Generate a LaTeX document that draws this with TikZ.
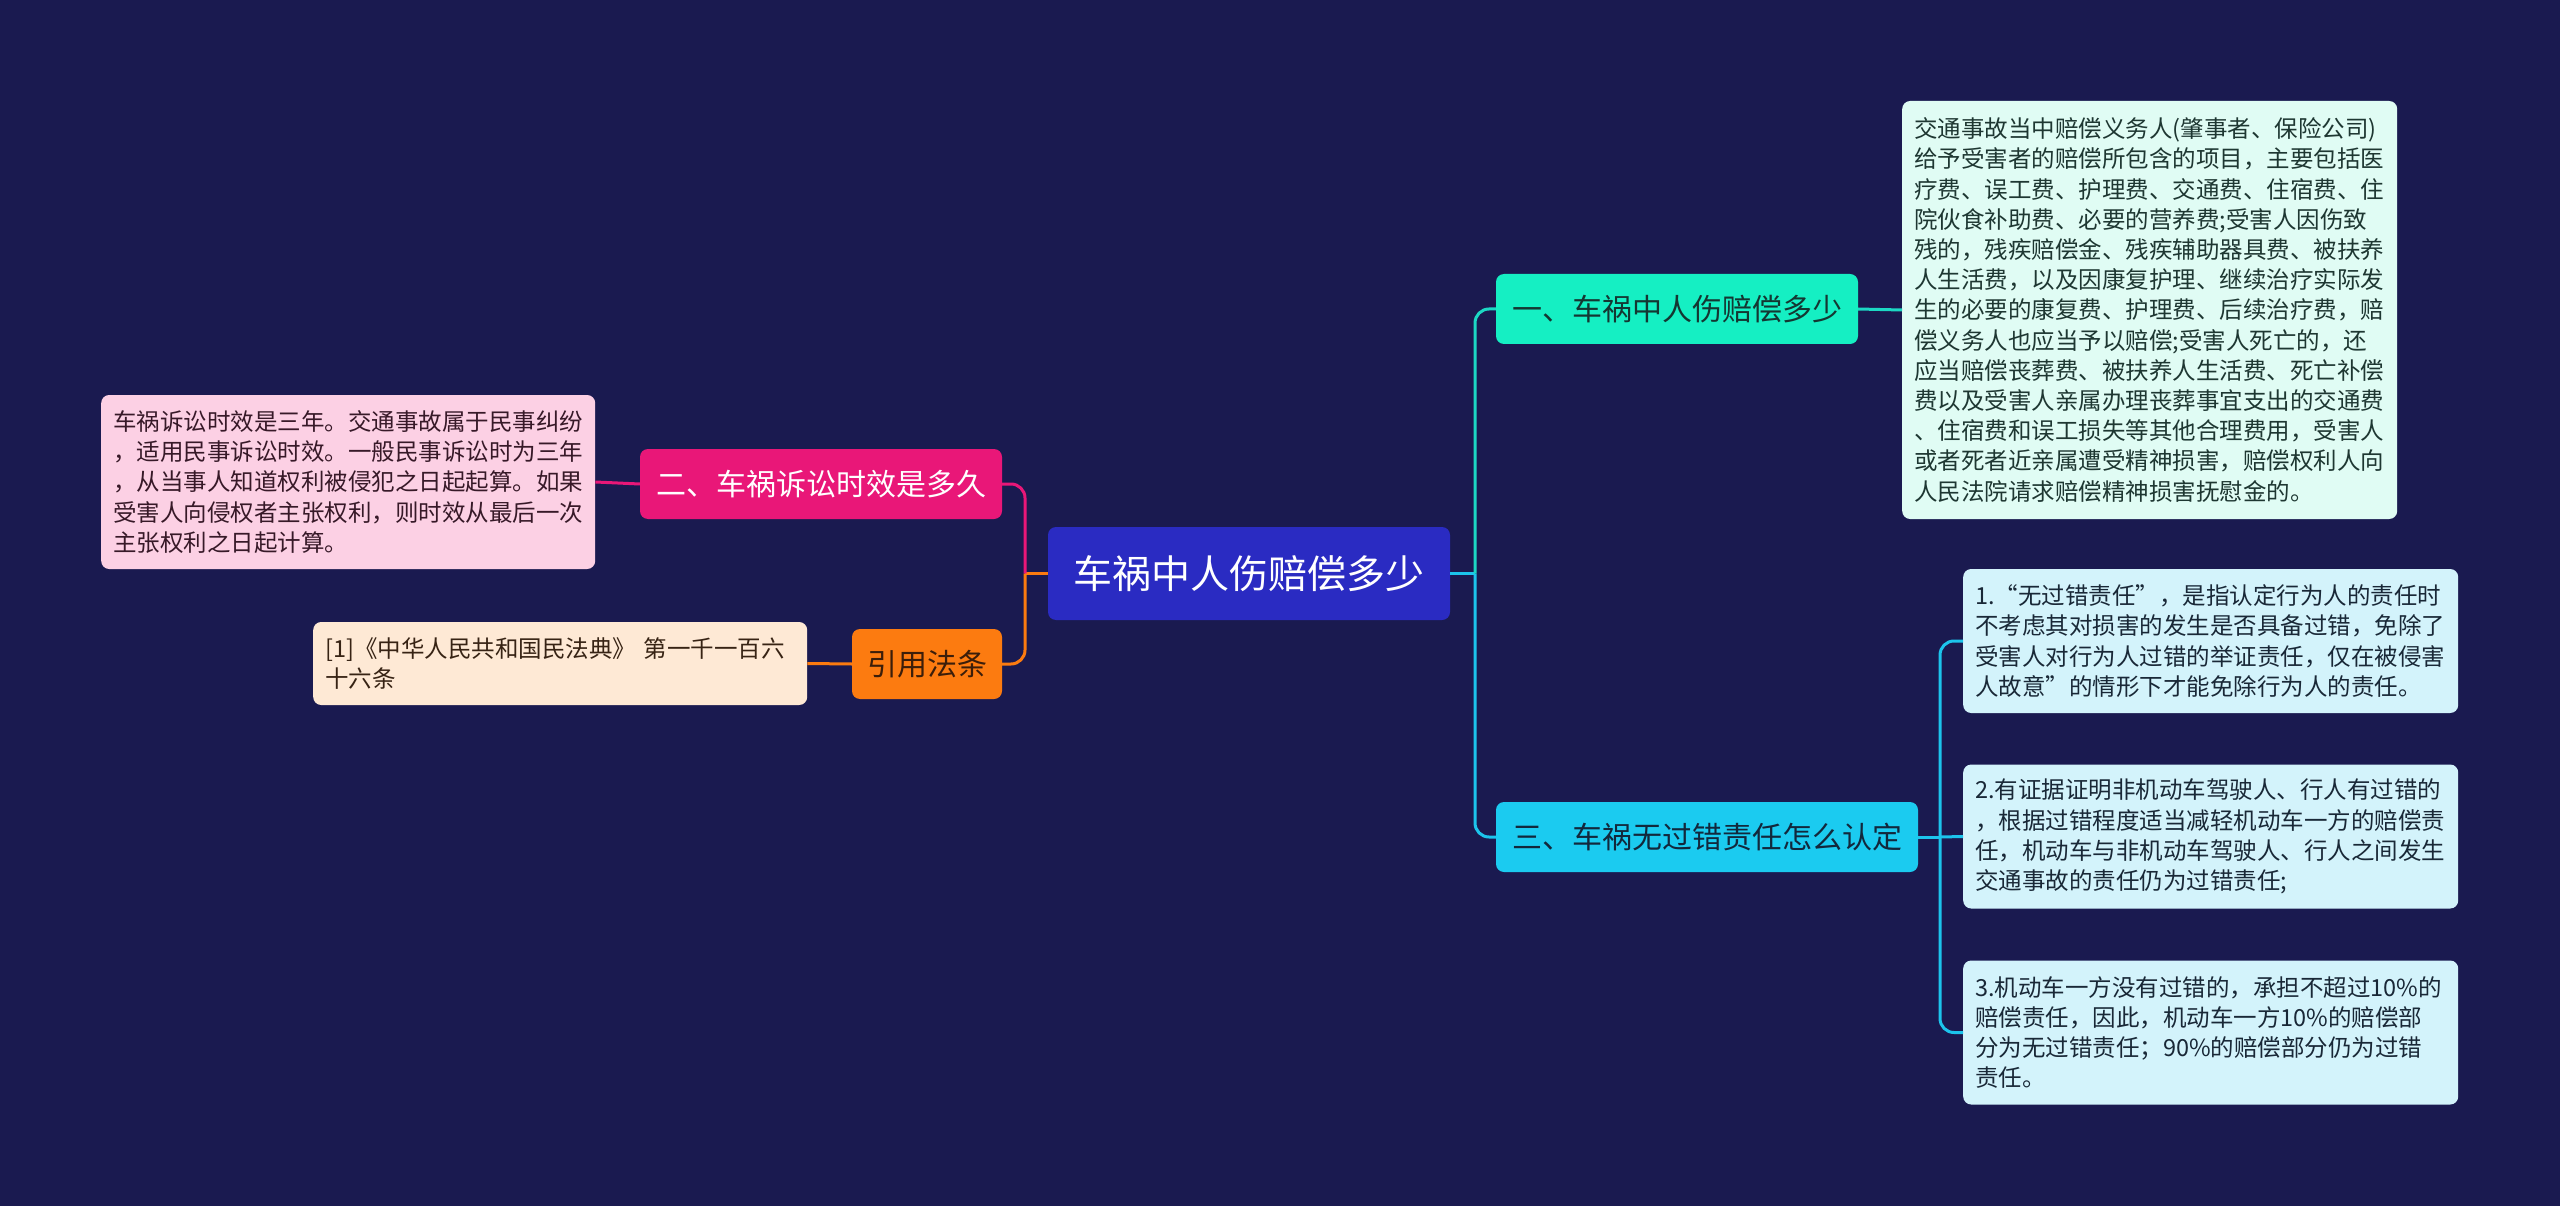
\documentclass[tikz,border=0pt]{standalone}
\usepackage{fontspec}
\setmainfont{Noto Sans CJK SC}
\definecolor{bg}{HTML}{1A1A50}
\definecolor{cmain}{HTML}{2A2BC2}
\definecolor{cone}{HTML}{15EFC3}
\definecolor{conebox}{HTML}{E0FCF4}
\definecolor{cthree}{HTML}{1BCBF0}
\definecolor{cthreebox}{HTML}{D3F3FB}
\definecolor{ctwo}{HTML}{E91778}
\definecolor{ctwobox}{HTML}{FCD0E4}
\definecolor{cref}{HTML}{FC7B10}
\definecolor{crefbox}{HTML}{FEE9D5}
\definecolor{lone}{HTML}{1CD8C4}
\definecolor{lthree}{HTML}{1CC4EC}
\begin{document}
\begin{tikzpicture}[x=1pt,y=-1pt,
  topic/.style={rounded corners=8pt, inner sep=0pt, align=center, font=\fontsize{30}{36}\selectfont},
  detail/.style={rounded corners=8pt, anchor=west, inner xsep=12pt, inner ysep=0pt, align=left, font=\fontsize{23.5}{30.2}\selectfont},
  conn/.style={line width=3pt, rounded corners=14pt}
]
\fill[bg] (0,0) rectangle (2560,1206);
\useasboundingbox (0,0) rectangle (2560,1206);

% central
\node[topic, fill=cmain, text=white, minimum width=402pt, minimum height=93pt, font=\fontsize{39}{46}\selectfont] (c) at (1249,573.5) {车祸中人伤赔偿多少};

% right branches
\node[topic, fill=cone, text={rgb,255:red,20;green,55;blue,50}, minimum width=362pt, minimum height=70pt] (n1) at (1677,309) {一、车祸中人伤赔偿多少};
\node[topic, fill=cthree, text={rgb,255:red,18;green,40;blue,60}, minimum width=422pt, minimum height=70pt] (n3) at (1707,837) {三、车祸无过错责任怎么认定};

% left branches
\node[topic, fill=ctwo, text=white, minimum width=362pt, minimum height=70pt] (n2) at (821,484) {二、车祸诉讼时效是多久};
\node[topic, fill=cref, text={rgb,255:red,60;green,30;blue,10}, minimum width=150pt, minimum height=70pt] (n4) at (927,664) {引用法条};

% details
\node[detail, fill=conebox, text={rgb,255:red,30;green,55;blue,50}, text width=471pt, minimum height=418pt] (d1) at (1902,310) {交通事故当中赔偿义务人(肇事者、保险公司)\\给予受害者的赔偿所包含的项目，主要包括医\\疗费、误工费、护理费、交通费、住宿费、住\\院伙食补助费、必要的营养费;受害人因伤致\\残的，残疾赔偿金、残疾辅助器具费、被扶养\\人生活费，以及因康复护理、继续治疗实际发\\生的必要的康复费、护理费、后续治疗费，赔\\偿义务人也应当予以赔偿;受害人死亡的，还\\应当赔偿丧葬费、被扶养人生活费、死亡补偿\\费以及受害人亲属办理丧葬事宜支出的交通费\\、住宿费和误工损失等其他合理费用，受害人\\或者死者近亲属遭受精神损害，赔偿权利人向\\人民法院请求赔偿精神损害抚慰金的。};

\node[detail, fill=cthreebox, text={rgb,255:red,25;green,40;blue,55}, text width=471pt, minimum height=144pt] (s1) at (1963,641) {1.“无过错责任”，是指认定行为人的责任时\\不考虑其对损害的发生是否具备过错，免除了\\受害人对行为人过错的举证责任，仅在被侵害\\人故意”的情形下才能免除行为人的责任。};
\node[detail, fill=cthreebox, text={rgb,255:red,25;green,40;blue,55}, text width=471pt, minimum height=144pt] (s2) at (1963,836.5) {2.有证据证明非机动车驾驶人、行人有过错的\\，根据过错程度适当减轻机动车一方的赔偿责\\任，机动车与非机动车驾驶人、行人之间发生\\交通事故的责任仍为过错责任;};
\node[detail, fill=cthreebox, text={rgb,255:red,25;green,40;blue,55}, text width=471pt, minimum height=144pt] (s3) at (1963,1032.5) {3.机动车一方没有过错的，承担不超过10\%的\\赔偿责任，因此，机动车一方10\%的赔偿部\\分为无过错责任；90\%的赔偿部分仍为过错\\责任。};

\node[detail, fill=ctwobox, text={rgb,255:red,55;green,25;blue,40}, text width=470pt, minimum height=174pt] (d2) at (101,482) {车祸诉讼时效是三年。交通事故属于民事纠纷\\，适用民事诉讼时效。一般民事诉讼时为三年\\，从当事人知道权利被侵犯之日起起算。如果\\受害人向侵权者主张权利，则时效从最后一次\\主张权利之日起计算。};
\node[detail, fill=crefbox, text={rgb,255:red,55;green,35;blue,20}, text width=470pt, minimum height=83pt] (d4) at (313,663.5) {[1]《中华人民共和国民法典》 第一千一百六\\十六条};

% junctions
\coordinate (rj) at (1475,573.5);
\coordinate (lj) at (1025,573.5);
\coordinate (sj) at (1940,837);

% connectors
\draw[conn, lthree] (c.east) -- (rj);
\draw[conn, lone] (rj) |- (n1.west);
\draw[conn, lthree] (rj) |- (n3.west);
\draw[conn, cref] (c.west) -- (lj);
\draw[conn, ctwo] (lj) |- (n2.east);
\draw[conn, cref] (lj) |- (n4.east);
\draw[conn, lone] (n1.east) -- (d1.west);
\draw[conn, ctwo] (n2.west) -- (d2.east);
\draw[conn, cref] (n4.west) -- (d4.east);
\draw[conn, lthree] (n3.east) -- (sj);
\draw[conn, lthree] (sj) |- (s1.west);
\draw[conn, lthree] (sj) -- (s2.west);
\draw[conn, lthree] (sj) |- (s3.west);
\end{tikzpicture}
\end{document}
